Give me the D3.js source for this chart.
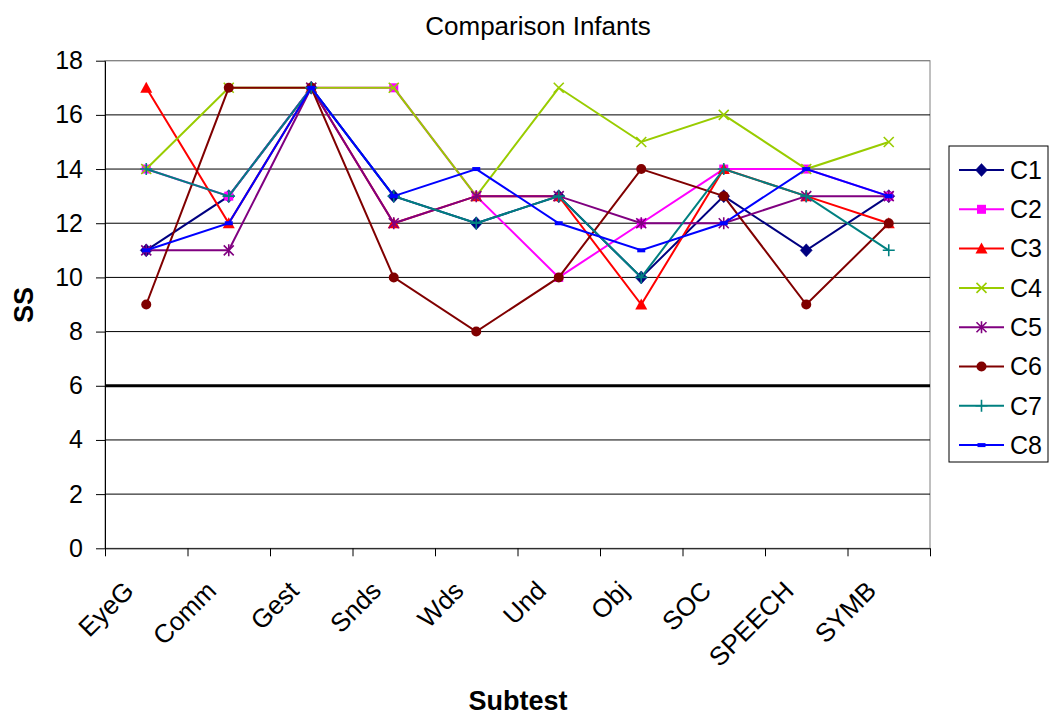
<!DOCTYPE html>
<html>
<head>
<meta charset="utf-8">
<script src="https://cdn.jsdelivr.net/npm/d3@7"></script>
<style>
  html, body { margin: 0; padding: 0; background: #fff; }
  svg { display: block; font-family: "Liberation Sans", Arial, sans-serif; }
</style>
</head>
<body>
<svg id="chart" width="1053" height="716"></svg>
<script>
// Subtest categories along the x axis
const categories = ["EyeG", "Comm", "Gest", "Snds", "Wds", "Und", "Obj", "SOC", "SPEECH", "SYMB"];

// Standard scores per child
const C1 = [11, 13, 17, 13, 12, 13, 10, 13, 11, 13];
const C2 = [14, 13, 17, 17, 13, 10, 12, 14, 14, 13];
const C3 = [17, 12, 17, 12, 13, 13, 9, 14, 13, 12];
const C4 = [14, 17, 17, 17, 13, 17, 15, 16, 14, 15];
const C5 = [11, 11, 17, 12, 13, 13, 12, 12, 13, 13];
const C6 = [9, 17, 17, 10, 8, 10, 14, 13, 9, 12];
const C7 = [14, 13, 17, 13, 12, 13, 10, 14, 13, 11];
const C8 = [11, 12, 17, 13, 14, 12, 11, 12, 14, 13];

const seriesNames = ["C1", "C2", "C3", "C4", "C5", "C6", "C7", "C8"];
const seriesValues = [C1, C2, C3, C4, C5, C6, C7, C8];

const yTicks = [0, 2, 4, 6, 8, 10, 12, 14, 16, 18];
const cutoff = 6;

const colors = ["#000080", "#FF00FF", "#FF0000", "#99CC00", "#800080", "#800000", "#008080", "#0000FF"];
const markers = ["diamond", "square", "triangle", "x", "star", "circle", "plus", "dash"];

const svg = d3.select("#chart");

const plot = { left: 105, right: 930, top: 60.7, bottom: 548.3 };

const x = d3.scaleBand().domain(categories).range([plot.left, plot.right]).padding(0);
const xEdge = d3.scaleLinear().domain([0, categories.length]).range([plot.left, plot.right]);
const y = d3.scaleLinear().domain([0, 18]).range([plot.bottom, plot.top]);
const cx = c => x(c) + x.bandwidth() / 2;

// Plot area frame
svg.append("rect")
  .attr("x", plot.left).attr("y", plot.top)
  .attr("width", plot.right - plot.left).attr("height", plot.bottom - plot.top)
  .attr("fill", "none").attr("stroke", "#808080").attr("stroke-width", 1);

// Horizontal gridlines
svg.append("g")
  .selectAll("line")
  .data(yTicks.filter(t => t > 0))
  .join("line")
  .attr("x1", plot.left).attr("x2", plot.right)
  .attr("y1", d => y(d)).attr("y2", d => y(d))
  .attr("stroke", d => d === 18 ? "#808080" : "#000")
  .attr("stroke-width", 1);

// Cutoff line
svg.append("line")
  .attr("x1", plot.left).attr("x2", plot.right)
  .attr("y1", y(cutoff)).attr("y2", y(cutoff))
  .attr("stroke", "#000").attr("stroke-width", 3);

// Y axis
const yAxis = svg.append("g")
  .attr("transform", `translate(${plot.left},0)`)
  .call(d3.axisLeft(y).tickValues(yTicks).tickSize(9).tickPadding(13).tickSizeOuter(0));
yAxis.select(".domain").attr("stroke", "#000");
yAxis.selectAll(".tick line").attr("stroke", "#000");
yAxis.selectAll("text").attr("font-size", 25).attr("fill", "#000")
  .attr("font-family", "Liberation Sans, Arial, sans-serif");

// X axis with ticks between categories
const xAxis = svg.append("g")
  .attr("transform", `translate(0,${plot.bottom})`)
  .call(d3.axisBottom(xEdge).tickValues(d3.range(categories.length + 1)).tickFormat("").tickSize(8).tickSizeOuter(0));
xAxis.select(".domain").attr("stroke", "#000");
xAxis.selectAll(".tick line").attr("stroke", "#000");

// Rotated category labels
svg.append("g")
  .selectAll("text")
  .data(categories)
  .join("text")
  .attr("transform", d => `translate(${cx(d) - 24},${plot.bottom + 31}) rotate(-45)`)
  .attr("text-anchor", "end")
  .attr("dy", "0.71em")
  .attr("font-size", 26)
  .attr("fill", "#000")
  .text(d => d);

// Marker drawing
function drawMarker(g, type, color) {
  switch (type) {
    case "diamond":
      g.append("path").attr("d", "M0,-6.5L6,0L0,6.5L-6,0Z").attr("fill", color).attr("stroke", color).attr("stroke-width", 0.5);
      break;
    case "square":
      g.append("rect").attr("x", -4.5).attr("y", -4.5).attr("width", 9).attr("height", 9).attr("fill", color);
      break;
    case "triangle":
      g.append("path").attr("d", "M0,-6L6,5L-6,5Z").attr("fill", color);
      break;
    case "x":
      g.append("path").attr("d", "M-5,-5L5,5M-5,5L5,-5").attr("stroke", color).attr("stroke-width", 1.6).attr("fill", "none");
      break;
    case "star":
      g.append("path").attr("d", "M-5,-5L5,5M-5,5L5,-5M0,-6L0,6").attr("stroke", color).attr("stroke-width", 1.6).attr("fill", "none");
      break;
    case "circle":
      g.append("circle").attr("r", 5).attr("fill", color);
      break;
    case "plus":
      g.append("path").attr("d", "M-6,0L6,0M0,-6L0,6").attr("stroke", color).attr("stroke-width", 1.6).attr("fill", "none");
      break;
    case "dash":
      g.append("rect").attr("x", -4).attr("y", -2).attr("width", 8).attr("height", 4).attr("fill", color);
      break;
  }
}

// Series lines and markers
const line = d3.line().x((d, i) => cx(categories[i])).y(d => y(d));
seriesValues.forEach((vals, si) => {
  const g = svg.append("g").attr("class", "series");
  g.append("path")
    .datum(vals)
    .attr("d", line)
    .attr("fill", "none")
    .attr("stroke", colors[si])
    .attr("stroke-width", 2);
  vals.forEach((v, i) => {
    const m = g.append("g").attr("transform", `translate(${cx(categories[i])},${y(v)})`);
    drawMarker(m, markers[si], colors[si]);
  });
});

// Legend
const legend = svg.append("g");
legend.append("rect")
  .attr("x", 949).attr("y", 146).attr("width", 99).attr("height", 316)
  .attr("fill", "#fff").attr("stroke", "#000").attr("stroke-width", 1);
seriesNames.forEach((name, i) => {
  const ly = 170 + i * 39.3;
  const item = legend.append("g");
  item.append("line").attr("x1", 959).attr("x2", 1004).attr("y1", ly).attr("y2", ly)
    .attr("stroke", colors[i]).attr("stroke-width", 2);
  const m = item.append("g").attr("transform", `translate(981.5,${ly})`);
  drawMarker(m, markers[i], colors[i]);
  item.append("text").attr("x", 1010).attr("y", ly).attr("dy", "0.35em")
    .attr("font-size", 25).attr("fill", "#000").text(name);
});

// Title and axis titles
svg.append("text")
  .attr("x", 538).attr("y", 35).attr("text-anchor", "middle")
  .attr("font-size", 26).attr("fill", "#000").text("Comparison Infants");

svg.append("text")
  .attr("x", 518).attr("y", 710).attr("text-anchor", "middle")
  .attr("font-size", 27).attr("font-weight", "bold").attr("fill", "#000").text("Subtest");

svg.append("text")
  .attr("transform", `translate(33,305) rotate(-90)`)
  .attr("text-anchor", "middle")
  .attr("font-size", 27).attr("font-weight", "bold").attr("fill", "#000").text("SS");
</script>
</body>
</html>
